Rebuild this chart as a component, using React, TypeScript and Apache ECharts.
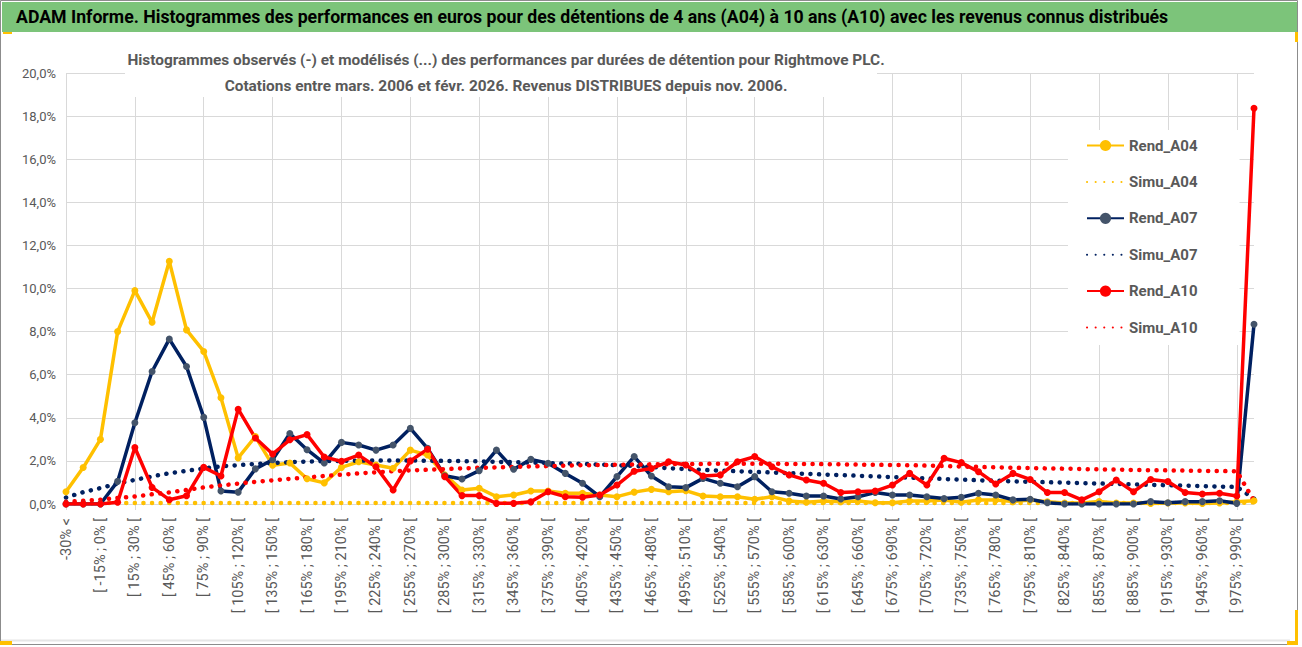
import React, { useEffect, useRef } from "react";
import * as echarts from "echarts";

// classes de performance (pas de 15 %)
const categories = [
	"-30% <", "[ -30% ; -15% [", "[ -15% ; 0% [", "[ 0% ; 15% [", "[ 15% ; 30% [",
	"[ 30% ; 45% [", "[ 45% ; 60% [", "[ 60% ; 75% [", "[ 75% ; 90% [", "[ 90% ; 105% [",
	"[ 105% ; 120% [", "[ 120% ; 135% [", "[ 135% ; 150% [", "[ 150% ; 165% [", "[ 165% ; 180% [",
	"[ 180% ; 195% [", "[ 195% ; 210% [", "[ 210% ; 225% [", "[ 225% ; 240% [", "[ 240% ; 255% [",
	"[ 255% ; 270% [", "[ 270% ; 285% [", "[ 285% ; 300% [", "[ 300% ; 315% [", "[ 315% ; 330% [",
	"[ 330% ; 345% [", "[ 345% ; 360% [", "[ 360% ; 375% [", "[ 375% ; 390% [", "[ 390% ; 405% [",
	"[ 405% ; 420% [", "[ 420% ; 435% [", "[ 435% ; 450% [", "[ 450% ; 465% [", "[ 465% ; 480% [",
	"[ 480% ; 495% [", "[ 495% ; 510% [", "[ 510% ; 525% [", "[ 525% ; 540% [", "[ 540% ; 555% [",
	"[ 555% ; 570% [", "[ 570% ; 585% [", "[ 585% ; 600% [", "[ 600% ; 615% [", "[ 615% ; 630% [",
	"[ 630% ; 645% [", "[ 645% ; 660% [", "[ 660% ; 675% [", "[ 675% ; 690% [", "[ 690% ; 705% [",
	"[ 705% ; 720% [", "[ 720% ; 735% [", "[ 735% ; 750% [", "[ 750% ; 765% [", "[ 765% ; 780% [",
	"[ 780% ; 795% [", "[ 795% ; 810% [", "[ 810% ; 825% [", "[ 825% ; 840% [", "[ 840% ; 855% [",
	"[ 855% ; 870% [", "[ 870% ; 885% [", "[ 885% ; 900% [", "[ 900% ; 915% [", "[ 915% ; 930% [",
	"[ 930% ; 945% [", "[ 945% ; 960% [", "[ 960% ; 975% [", "[ 975% ; 990% [", "990% >",
];

// valeurs en %
const rendA04 = [
	0.57, 1.69, 3.0, 8.0, 9.9, 8.43, 11.26, 8.08, 7.08, 4.93,
	2.14, 3.13, 1.8, 1.9, 1.17, 0.98, 1.7, 1.96, 1.81, 1.66,
	2.5, 2.27, 1.35, 0.65, 0.73, 0.34, 0.42, 0.6, 0.6, 0.5,
	0.5, 0.42, 0.34, 0.55, 0.68, 0.57, 0.62, 0.37, 0.34, 0.34,
	0.22, 0.34, 0.14, 0.08, 0.14, 0.11, 0.14, 0.06, 0.06, 0.14,
	0.14, 0.19, 0.08, 0.19, 0.19, 0.11, 0.19, 0.1, 0.05, 0.05,
	0.12, 0.05, 0.05, 0.02, 0.05, 0.05, 0.02, 0.05, 0.1, 0.15,
];
const simuA04 = [
	0.03, 0.04, 0.04, 0.05, 0.05, 0.05, 0.05, 0.05, 0.05, 0.05,
	0.05, 0.05, 0.05, 0.05, 0.05, 0.05, 0.05, 0.05, 0.05, 0.05,
	0.05, 0.05, 0.05, 0.05, 0.05, 0.05, 0.05, 0.05, 0.05, 0.05,
	0.05, 0.05, 0.05, 0.05, 0.05, 0.05, 0.05, 0.05, 0.05, 0.05,
	0.05, 0.05, 0.05, 0.05, 0.05, 0.05, 0.05, 0.05, 0.05, 0.05,
	0.05, 0.05, 0.05, 0.05, 0.05, 0.05, 0.05, 0.05, 0.05, 0.05,
	0.05, 0.05, 0.05, 0.05, 0.05, 0.05, 0.05, 0.05, 0.05, 0.08,
];
const rendA07 = [
	0, 0, 0, 1.05, 3.77, 6.15, 7.65, 6.38, 4.02, 0.6,
	0.55, 1.63, 2.05, 3.27, 2.52, 1.9, 2.86, 2.74, 2.5, 2.74,
	3.51, 2.58, 1.31, 1.16, 1.55, 2.5, 1.61, 2.07, 1.89, 1.42,
	0.96, 0.34, 1.27, 2.2, 1.3, 0.8, 0.76, 1.19, 0.96, 0.8,
	1.27, 0.57, 0.5, 0.37, 0.37, 0.23, 0.34, 0.53, 0.42, 0.42,
	0.34, 0.25, 0.31, 0.5, 0.42, 0.19, 0.22, 0.06, 0, 0,
	0, 0, 0, 0.11, 0.06, 0.11, 0.11, 0.15, 0.03, 8.34,
];
const simuA07 = [
	0.3, 0.55, 0.74, 0.95, 1.12, 1.28, 1.43, 1.54, 1.65, 1.75,
	1.8, 1.86, 1.9, 1.94, 1.97, 1.99, 2.0, 2.01, 2.02, 2.02,
	2.02, 2.01, 2.0, 1.99, 1.98, 1.96, 1.94, 1.92, 1.9, 1.88,
	1.86, 1.83, 1.8, 1.77, 1.72, 1.66, 1.62, 1.58, 1.55, 1.52,
	1.49, 1.46, 1.43, 1.4, 1.37, 1.34, 1.31, 1.28, 1.25, 1.22,
	1.19, 1.16, 1.13, 1.1, 1.08, 1.05, 1.03, 1.01, 0.99, 0.97,
	0.95, 0.93, 0.91, 0.89, 0.87, 0.85, 0.83, 0.81, 0.79, 0.25,
];
const rendA10 = [
	0, 0, 0, 0.08, 2.62, 0.77, 0.2, 0.38, 1.7, 1.3,
	4.4, 3.06, 2.32, 2.98, 3.22, 2.18, 1.98, 2.27, 1.73, 0.65,
	2.0, 2.54, 1.27, 0.39, 0.39, 0.03, 0.03, 0.1, 0.57, 0.34,
	0.31, 0.42, 0.88, 1.52, 1.65, 1.96, 1.81, 1.3, 1.35, 1.96,
	2.2, 1.73, 1.35, 1.11, 0.96, 0.53, 0.57, 0.6, 0.88, 1.42,
	0.88, 2.12, 1.92, 1.5, 0.93, 1.42, 1.14, 0.53, 0.53, 0.19,
	0.57, 1.11, 0.57, 1.14, 1.04, 0.53, 0.46, 0.5, 0.37, 18.36,
];
const simuA10 = [
	0.1, 0.15, 0.2, 0.28, 0.35, 0.45, 0.54, 0.65, 0.77, 0.86,
	0.95, 1.03, 1.1, 1.17, 1.23, 1.3, 1.36, 1.42, 1.47, 1.52,
	1.56, 1.59, 1.62, 1.65, 1.68, 1.7, 1.72, 1.74, 1.76, 1.78,
	1.8, 1.81, 1.82, 1.83, 1.84, 1.85, 1.86, 1.86, 1.87, 1.87,
	1.87, 1.87, 1.86, 1.86, 1.85, 1.84, 1.83, 1.82, 1.81, 1.8,
	1.78, 1.76, 1.74, 1.72, 1.7, 1.68, 1.67, 1.65, 1.64, 1.62,
	1.61, 1.6, 1.58, 1.57, 1.56, 1.55, 1.54, 1.53, 1.52, 0.15,
];

const FONT = 'Roboto, "Noto Sans", sans-serif';
const GREY_TXT = "#595959";
const GRID_COL = "#d9d9d9";

const App: React.FC = () => {
	const chartRef = useRef<HTMLDivElement>(null);

	useEffect(() => {
		if (!chartRef.current) return;
		const chart = echarts.init(chartRef.current, undefined, { renderer: "svg" });

		const rend = (name: string, data: number[], line: string, marker: string) => ({
			name,
			type: "line",
			data,
			symbol: "circle",
			symbolSize: 7,
			itemStyle: { color: marker },
			lineStyle: { color: line, width: 3.5 },
		});
		const simu = (name: string, data: number[], color: string) => ({
			name,
			type: "line",
			data,
			symbol: "none",
			itemStyle: { color },
			lineStyle: { color, width: 4.5, type: [0.1, 8.5], cap: "round" },
		});
		// pas de rond dans la légende pour les courbes modélisées
		const noDot = { color: "rgba(0,0,0,0)", borderWidth: 0 };

		const option = {
			animation: false,
			backgroundColor: "#fff",
			textStyle: { fontFamily: FONT },
			grid: { left: 66, right: 48, top: 73, bottom: 143 },
			xAxis: {
				type: "category",
				data: categories,
				boundaryGap: false,
				axisLine: { lineStyle: { color: GRID_COL } },
				axisTick: { show: true, interval: 3, length: 6, lineStyle: { color: GRID_COL } },
				splitLine: { show: true, interval: 3, lineStyle: { color: GRID_COL } },
				axisLabel: {
					interval: 1,
					rotate: 90,
					fontSize: 14.5,
					color: GREY_TXT,
					margin: 14,
					fontFamily: FONT,
				},
			},
			yAxis: {
				type: "value",
				min: 0,
				max: 20,
				interval: 2,
				axisLine: { show: false },
				axisTick: { show: false },
				splitLine: { lineStyle: { color: GRID_COL } },
				axisLabel: {
					fontSize: 13,
					color: GREY_TXT,
					margin: 10,
					fontFamily: FONT,
					formatter: (v: number) => v.toFixed(1).replace(".", ",") + "%",
				},
			},
			legend: {
				orient: "vertical",
				left: 1068,
				top: 130,
				itemWidth: 37,
				itemHeight: 14,
				itemGap: 21.4,
				backgroundColor: "#fff",
				padding: [8, 42, 10, 18],
				textStyle: { fontSize: 15, fontWeight: "bold", color: GREY_TXT, fontFamily: FONT },
				data: [
					"Rend_A04",
					{ name: "Simu_A04", itemStyle: noDot },
					"Rend_A07",
					{ name: "Simu_A07", itemStyle: noDot },
					"Rend_A10",
					{ name: "Simu_A10", itemStyle: noDot },
				],
			},
			graphic: [
				{ type: "rect", z: 10, shape: { x: 2, y: 2, width: 1296, height: 30 }, style: { fill: "#7cc47a" } },
				{
					type: "text",
					z: 11,
					x: 16,
					y: 17,
					style: {
						text: "ADAM Informe. Histogrammes des performances en euros pour des détentions de 4 ans (A04) à 10 ans (A10) avec les revenus connus distribués",
						fill: "#000",
						font: `bold 17.7px ${FONT}`,
						verticalAlign: "middle",
					},
				},
				{ type: "rect", z: 10, shape: { x: 125, y: 46, width: 752, height: 51 }, style: { fill: "#fff" } },
				{
					type: "text",
					z: 11,
					x: 506,
					y: 73,
					style: {
						text: "Histogrammes observés (-) et modélisés (...) des performances par durées de détention pour Rightmove PLC.\nCotations entre mars. 2006 et févr. 2026. Revenus DISTRIBUES depuis nov. 2006.",
						fill: GREY_TXT,
						font: `bold 15.4px ${FONT}`,
						lineHeight: 26,
						align: "center",
						verticalAlign: "middle",
					},
				},
				{
					type: "rect",
					z: 12,
					shape: { x: 0.5, y: 0.5, width: 1297, height: 644 },
					style: { fill: "none", stroke: "#8c8c8c", lineWidth: 1 },
				},
				{
					type: "line",
					z: 12,
					shape: { x1: 1, y1: 640.5, x2: 1290, y2: 640.5 },
					style: { stroke: "#e6e6e6", lineWidth: 2 },
				},
				{ type: "rect", z: 13, shape: { x: 0, y: 641, width: 12, height: 4 }, style: { fill: "#ffc000" } },
				{ type: "rect", z: 13, shape: { x: 1287, y: 641, width: 11, height: 4 }, style: { fill: "#ffc000" } },
				{ type: "rect", z: 13, shape: { x: 1295, y: 610, width: 3, height: 35 }, style: { fill: "#ffc000" } },
				{ type: "rect", z: 13, shape: { x: 1295, y: 32, width: 3, height: 10 }, style: { fill: "#ffc000" } },
				{ type: "rect", z: 13, shape: { x: 3, y: 32, width: 9, height: 2 }, style: { fill: "#ffc000" } },
			],
			series: [
				rend("Rend_A04", rendA04, "#ffc000", "#ffc000"),
				simu("Simu_A04", simuA04, "#ffc000"),
				rend("Rend_A07", rendA07, "#002060", "#44546a"),
				simu("Simu_A07", simuA07, "#002060"),
				rend("Rend_A10", rendA10, "#ff0000", "#ff0000"),
				simu("Simu_A10", simuA10, "#ff0000"),
			],
		};

		chart.setOption(option as any);
		return () => chart.dispose();
	}, []);

	return (
		<div
			ref={chartRef}
			style={{ position: "fixed", left: 0, top: 0, width: 1302, height: 647 }}
		/>
	);
};

export default App;
